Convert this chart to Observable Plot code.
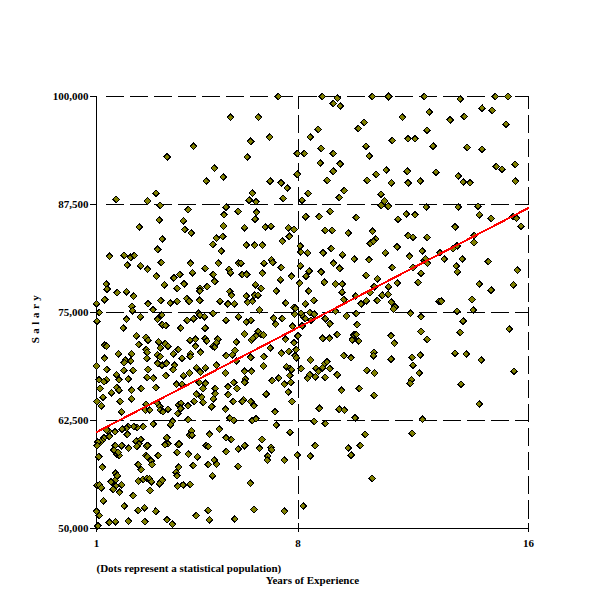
<!DOCTYPE html>
<html>
<head>
<meta charset="utf-8">
<script src="https://cdn.jsdelivr.net/npm/d3@7"></script>
<script src="https://cdn.jsdelivr.net/npm/@observablehq/plot@0.6"></script>
<style>
  html, body { margin: 0; padding: 0; background: #fff; }
  svg line, svg path { shape-rendering: crispEdges; }
</style>
</head>
<body>
<script>
// Years of experience for each person
const experience = [
  1.68,3.45,4.37,5.65,5.09,4.81,5.40,3.07,2.77,3.21,4.18,5.50,
  5.92,5.43,3.18,4.02,2.48,5.41,4.06,4.29,3.28,5.16,5.38,
  5.04,3.12,5.33,1.45,1.96,2.19,2.31,2.07,3.25,2.53,2.77,4.26,
  4.77,5.23,5.60,5.65,5.93,3.08,3.69,3.89,5.06,4.33,5.10,1.34,
  1.37,3.36,3.80,4.04,4.60,4.84,4.59,1.72,2.04,2.29,5.63,5.69,
  1.28,2.79,3.23,3.56,3.80,4.14,4.22,4.58,5.29,5.56,5.79,1.00,
  2.23,2.25,2.96,1.10,5.05,4.54,1.02,2.04,2.52,3.12,3.27,3.29,
  3.40,4.15,4.37,4.59,4.75,5.50,5.93,1.93,3.93,4.77,2.38,2.72,
  2.79,4.25,4.44,4.78,4.83,5.21,5.85,3.16,3.38,3.22,3.48,4.44,
  5.04,5.11,5.17,1.28,1.35,2.47,2.72,2.76,3.11,1.76,2.22,3.84,
  3.67,4.26,4.61,1.28,2.00,1.96,2.19,2.75,3.21,3.28,3.43,3.71,
  3.97,4.26,5.50,5.72,5.81,5.86,1.00,1.35,1.95,2.27,2.79,3.12,
  3.66,4.78,5.16,1.35,1.69,1.78,2.10,2.76,2.97,3.41,4.02,4.23,
  4.47,4.61,5.48,1.09,1.26,3.78,3.97,4.57,4.78,5.76,1.71,3.06,
  1.12,1.52,1.78,2.22,2.56,4.70,5.12,5.57,5.88,1.02,1.23,1.17,
  1.82,2.22,1.87,2.72,2.70,2.85,3.11,3.20,3.22,3.31,3.48,3.85,
  3.93,3.92,4.18,3.82,4.39,4.47,4.65,4.70,5.00,5.06,5.12,5.57,
  5.75,5.48,5.63,5.77,4.18,3.64,3.57,2.97,2.62,2.41,2.29,2.10,
  2.04,1.89,1.64,1.42,1.35,2.07,1.45,1.26,1.20,1.14,1.05,1.02,
  1.08,2.38,2.54,2.47,2.40,2.74,2.78,2.12,1.87,1.65,1.60,1.71,
  1.79,1.75,2.71,2.76,2.90,2.93,3.15,3.44,3.48,3.38,3.84,3.87,
  3.80,4.19,4.30,4.23,4.32,4.92,4.81,4.88,4.50,4.36,4.88,5.09,
  5.17,5.27,5.50,5.68,5.50,5.92,5.92,1.20,1.66,1.72,1.64,1.51,
  1.87,1.67,1.02,1.10,1.17,1.58,1.80,2.27,2.45,2.55,2.46,2.62,
  2.76,2.84,2.91,2.86,3.22,3.19,3.29,3.77,3.80,3.85,3.82,4.01,
  4.25,5.03,1.24,1.96,2.67,2.45,3.06,4.46,4.88,4.92,5.80,1.00,
  1.10,1.05,1.45,1.66,2.11,2.68,3.45,3.63,
  7.31,8.84,9.36,9.22,9.46,10.58,11.14,6.62,8.70,8.42,7.01,6.35,
  10.09,10.29,10.36,10.47,8.80,9.22,8.22,7.97,6.23,8.77,9.46,9.22,
  7.97,11.06,10.71,10.40,9.01,7.03,7.41,7.62,6.41,6.30,6.54,7.48,
  8.14,8.35,9.43,9.60,10.88,11.00,10.88,11.13,6.56,6.51,6.14,6.86,
  7.06,7.66,7.86,7.70,8.26,8.73,9.11,10.02,8.94,9.18,9.74,10.58,10.69,
  6.20,6.49,6.76,7.45,8.07,8.09,8.33,8.87,9.15,9.54,9.95,10.46,10.51,10.62,11.03,
  6.02,6.82,7.08,7.12,7.42,8.08,8.38,8.27,8.80,9.23,9.44,
  6.06,6.21,6.76,7.77,8.05,7.39,7.24,6.52,6.72,8.91,9.30,9.53,10.36,10.75,10.65,10.50,11.14,
  8.37,6.20,6.25,6.42,6.49,6.61,9.53,9.59,10.00,10.19,10.37,10.75,10.92,11.13,
  8.25,8.55,7.57,7.85,7.91,6.66,7.88,8.11,8.19,8.40,8.25,8.45,8.56,9.30,9.68,10.02,8.95,9.10,10.05,
  7.15,7.45,7.22,6.36,6.20,8.14,7.81,
  6.14,6.62,6.71,6.54,6.38,6.80,6.43,7.56,7.86,7.99,8.85,9.09,9.36,9.90,9.94,10.02,10.11,9.88,
  7.03,7.42,7.68,7.93,7.89,7.94,6.35,6.81,8.43,8.93,9.00,9.59,9.84,10.63,10.62,
  6.80,6.38,6.14,7.60,7.72,7.77,8.11,8.62,8.71,8.85,9.10,
  6.17,6.14,7.10,7.33,7.52,7.71,7.75,8.33,8.41,8.60,8.94,9.36,10.39,10.65,
  7.66,7.79,6.89,6.10,6.06,6.35,6.47,9.51,10.12,10.64,8.74,9.43,9.61,7.20,
  9.98,6.41,6.54,8.56,8.94,7.24,7.72,10.33,6.75,6.14,6.66,7.06,7.08,8.59,
  9.74,10.16,6.95,6.93,7.52,7.97,8.42,9.84,10.57,6.34,6.47,7.52,8.18,
  12.38,13.63,14.85,15.29,14.39,14.74,11.62,12.55,13.28,13.77,15.22,12.48,11.27,11.82,12.06,
  12.69,13.87,14.39,11.79,12.79,14.88,15.08,15.54,11.24,11.82,12.24,13.56,13.73,13.97,15.54,
  12.45,13.56,14.25,11.47,11.75,12.06,14.29,14.70,15.47,15.58,15.74,13.45,11.82,11.99,12.48,14.11,
  11.44,11.87,12.31,12.38,12.49,12.43,12.93,13.07,13.38,13.52,14.11,13.70,13.49,13.53,14.60,15.61,
  11.27,11.99,12.27,11.44,12.17,14.29,14.70,15.47,11.24,11.37,11.31,12.89,12.97,14.04,14.08,13.52,
  11.90,12.27,13.73,12.27,13.63,12.48,15.33,11.23,11.34,11.23,11.96,12.24,11.99,12.21,13.45,13.84,14.36,15.50,11.93,11.89,13.66,
  12.32,11.96,14.29
];

// Salary of each person, in thousands of dollars (same order)
const salaryThousands = [
  88.1,93.0,94.25,97.6,91.7,90.2,90.7,88.8,87.9,87.4,86.9,87.2,
  86.7,86.3,85.7,85.6,84.9,85.0,84.6,84.2,83.5,83.6,83.8,
  82.9,82.3,82.1,81.5,81.6,81.4,81.6,80.5,80.8,80.4,80.0,80.7,
  80.1,80.7,80.0,79.6,80.7,79.2,79.0,79.4,79.4,79.6,78.6,78.3,
  77.7,78.2,77.8,78.3,77.8,78.0,77.5,77.3,77.4,76.9,77.4,77.0,
  76.5,76.0,76.4,76.1,76.3,76.6,76.3,76.4,76.3,76.0,76.0,76.0,
  75.7,75.2,75.3,75.0,74.9,74.9,74.0,74.2,74.5,74.2,74.7,73.6,
  73.5,74.1,74.3,74.7,74.5,74.1,74.5,73.2,73.2,73.2,72.3,72.1,
  71.8,71.8,71.9,72.0,71.7,71.9,71.6,71.6,71.4,70.9,71.1,71.1,
  71.1,71.0,71.5,71.2,71.1,71.3,70.7,70.4,70.1,70.2,70.2,70.7,
  70.2,70.2,70.4,69.7,69.5,69.2,69.4,69.7,69.9,68.9,69.1,68.9,
  69.7,69.9,70.0,70.1,70.6,69.4,68.8,68.4,68.3,68.3,68.4,69.1,
  68.4,68.6,68.9,67.2,67.8,67.2,67.3,67.5,67.4,67.7,67.7,68.0,
  68.6,68.1,68.0,67.2,67.0,66.7,66.7,66.9,66.8,66.9,66.3,66.3,
  66.2,65.7,66.0,66.0,66.2,66.2,66.2,66.4,66.2,64.7,65.2,64.2,
  64.7,65.0,63.5,64.4,63.7,63.7,64.5,64.1,63.7,63.5,63.8,64.3,
  64.5,63.9,64.2,63.3,64.7,65.55,65.2,64.6,64.1,65.0,65.6,65.5,
  64.7,63.8,62.8,62.5,62.6,62.4,62.0,62.1,61.8,61.7,61.8,61.8,
  61.6,61.5,61.2,61.3,61.4,60.9,60.65,60.5,60.2,60.0,60.0,59.6,
  58.3,60.1,60.3,59.8,59.5,59.5,59.6,59.3,59.6,59.6,59.1,58.6,
  58.45,58.8,58.45,58.3,57.8,57.4,58.45,60.5,59.8,59.7,59.7,59.8,
  58.8,58.6,61.3,60.8,60.8,60.9,59.6,59.5,58.3,57.3,57.4,57.9,
  57.45,61.5,60.5,60.3,58.9,59.2,57.2,57.1,56.4,56.1,55.55,55.4,
  55.05,54.9,55.0,55.05,54.7,54.55,54.2,53.8,57.4,56.8,55.5,55.7,
  55.8,55.75,55.4,54.4,55.4,55.2,55.6,56.5,56.1,57.1,54.9,55.05,
  55.1,56.1,53.2,52.6,52.4,52.1,52.0,51.5,52.1,51.0,51.1,52.0,
  51.5,50.3,50.7,50.8,50.85,50.8,51.0,50.5,
  100,100,99.8,99.2,98.9,100,100,97.6,96.2,95.3,95.3,94.8,
  96.3,97.0,94.25,93.1,94.0,93.4,93.4,93.4,93.0,92.3,92.2,91.35,
  91.0,91.5,91.0,90.3,90.3,90.2,90.0,89.4,88.8,88.0,87.8,88.2,
  88.0,88.8,88.3,89.1,88.7,87.9,87.4,87.3,86.6,85.8,84.8,84.9,
  85.0,84.8,84.6,83.8,86.1,86.1,86.7,86.0,84.5,84.5,84.2,84.4,83.5,
  82.8,82.8,82.8,83.25,82.7,82.0,81.9,81.9,82.4,81.7,81.2,81.1,83.0,83.25,81.9,
  80.7,80.7,81.1,80.8,80.2,80.4,79.8,79.2,79.7,80.7,80.1,
  79.4,79.4,79.55,79.2,78.4,78.8,77.5,78.2,77.8,78.5,78.3,78.3,79.3,78.9,78.0,77.3,78.0,
  77.5,76.9,76.2,76.3,77.0,77.0,77.35,76.5,76.9,76.0,76.35,76.4,77.0,77.1,
  76.0,76.4,76.1,75.6,75.5,75.3,74.8,74.9,74.5,75.0,74.3,74.1,74.8,75.15,74.6,74.9,74.3,73.7,73.6,
  74.35,74.3,73.65,74.1,73.9,73.45,73.4,
  72.5,72.8,72.5,72.3,71.8,72.4,72.0,71.9,71.5,72.3,72.0,72.0,72.45,72.0,72.4,72.45,71.7,71.8,
  70.9,70.3,70.5,70.7,70.0,69.75,69.8,69.9,69.5,69.1,69.3,70.0,69.75,70.4,70.0,
  68.8,68.2,68.2,68.7,68.55,68.4,68.5,68.55,68.2,68.6,68.5,
  67.3,66.9,67.1,67.4,66.7,67.7,66.9,67.4,67.8,67.55,67.5,67.8,68.3,68.0,
  65.8,64.7,65.55,64.9,64.7,64.7,64.2,66.0,66.2,65.4,63.9,63.8,63.7,63.5,
  62.8,62.5,62.7,62.4,62.15,61.96,61.15,60.9,60.3,59.6,59.3,59.4,59.1,59.6,
  59.3,59.6,58.4,57.9,57.9,58.5,58.4,58.5,55.8,55.25,52.2,52.0,52.6,
  100,99.7,100,100,98.65,98.4,97.6,98.2,97.3,97.7,96.8,96.1,94.9,95.1,95.1,
  94.25,94.1,93.9,91.35,91.25,91.9,91.6,92.15,90.0,90.0,90.2,90.8,90.1,90.0,90.2,
  87.2,87.2,87.3,85.8,86.4,86.3,86.3,85.9,86.1,85.9,85.0,84.9,83.9,83.7,83.7,83.9,
  82.6,81.5,82.1,81.05,80.7,81.2,81.9,81.2,82.4,82.7,83.1,81.2,80.4,79.7,80.9,79.9,
  80.2,80.2,79.55,78.4,78.5,78.3,77.6,78.2,76.2,75.65,75.4,76.3,76.3,76.5,75.3,75.15,
  74.9,74.5,74.0,72.8,72.7,71.9,73.1,72.3,71.45,69.6,69.8,70.1,68.9,68.0,70.3,70.2,69.5,68.2,67.2,66.8,66.7,
  62.65,61.0,64.4
];

// Fitted trend line end points
const fitExperience = [1, 16];
const fitSalaryThousands = [61.15, 87.1];

// Axis ticks
const xTicks = [1, 8, 16];
const yTicks = [50000, 62500, 75000, 87500, 100000];
const xGrid = [8, 16];
const yGrid = [62500, 75000, 87500, 100000];

const n = Math.min(experience.length, salaryThousands.length);
const people = d3.range(n).map(i => ({years: experience[i], salary: salaryThousands[i] * 1000}));
const fit = fitExperience.map((x, i) => ({years: x, salary: fitSalaryThousands[i] * 1000}));

const font = "'Liberation Serif', 'Times New Roman', serif";

const chart = Plot.plot({
  width: 600,
  height: 600,
  marginLeft: 96,
  marginRight: 72,
  marginTop: 96,
  marginBottom: 72,
  style: {fontFamily: font, fontSize: "11px", fontWeight: "bold", background: "white", color: "black", overflow: "visible"},
  x: {domain: [1, 16]},
  y: {domain: [50000, 100000]},
  marks: [
    Plot.ruleY(yGrid, {stroke: "black", strokeWidth: 1, strokeDasharray: "18.3,5.8", strokeDashoffset: 18.3, insetLeft: 3.7}),
    Plot.ruleX(xGrid, {stroke: "black", strokeWidth: 1, strokeDasharray: "18.3,5.8", strokeDashoffset: 5.5, insetBottom: 3.7}),
    Plot.ruleX([1], {stroke: "black", strokeWidth: 1}),
    Plot.ruleY([50000], {stroke: "black", strokeWidth: 1}),
    Plot.ruleX(xTicks, {stroke: "black", strokeWidth: 1, insetTop: 427, insetBottom: -4}),
    Plot.axisY({ticks: yTicks, tickFormat: d3.format(","), tickSize: 6, tickPadding: 2, label: null, fontWeight: "bold"}),
    Plot.axisX({ticks: xTicks, tickFormat: d => String(d), tickSize: 0, tickPadding: 11, label: null, fontWeight: "bold"}),
    Plot.dot(people, {x: "years", y: "salary", symbol: "diamond2", r: 3.0, fill: "#808000", stroke: "black", strokeWidth: 1}),
    Plot.line(fit, {x: "years", y: "salary", stroke: "#ff0000", strokeWidth: 2}),
    Plot.text(["Salary"], {text: d => d, frameAnchor: "left", rotate: -90, dx: -61, dy: 5, textAnchor: "middle", lineAnchor: "middle", fontWeight: "bold", fontSize: 11}),
    Plot.text(["(Dots represent a statistical population)"], {text: d => d, frameAnchor: "bottom-left", textAnchor: "start", lineAnchor: "middle", dy: 39.5, fontWeight: "bold", fontSize: 11}),
    Plot.text(["Years of Experience"], {text: d => d, frameAnchor: "bottom", textAnchor: "middle", lineAnchor: "middle", dy: 51.8, fontWeight: "bold", fontSize: 11})
  ]
});

d3.select(chart).selectAll("text")
  .filter(function() { return this.textContent === "Salary"; })
  .style("letter-spacing", "3.5px");

document.body.appendChild(chart);
</script>
</body>
</html>
